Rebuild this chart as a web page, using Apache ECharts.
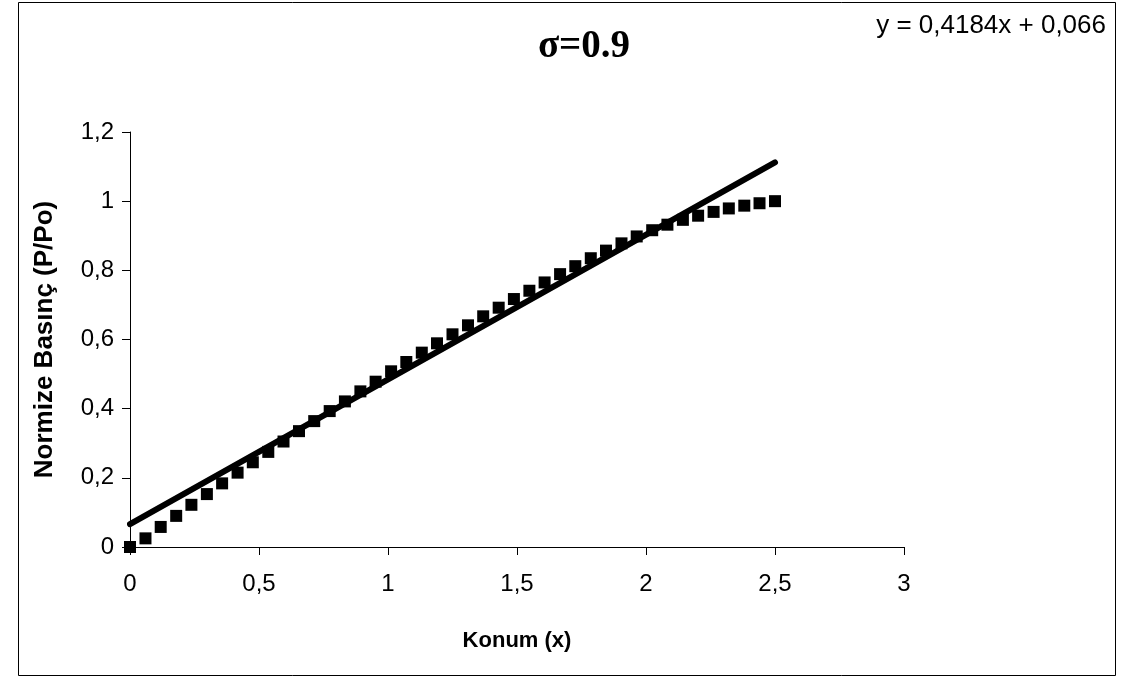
<!DOCTYPE html>
<html>
<head>
<meta charset="utf-8">
<script src="https://cdn.jsdelivr.net/npm/echarts@6/dist/echarts.min.js"></script>
<style>
  html, body { margin: 0; padding: 0; background: #fff; }
  #chart { width: 1123px; height: 685px; }
</style>
</head>
<body>
<div id="chart"></div>
<script>
// measured points (Konum x, P/Po)
const xPos = [0, 0.060, 0.119, 0.179, 0.238, 0.298, 0.357, 0.417, 0.476, 0.536,
    0.595, 0.655, 0.714, 0.774, 0.833, 0.893, 0.952, 1.012, 1.071, 1.131,
    1.190, 1.250, 1.310, 1.369, 1.429, 1.488, 1.548, 1.607, 1.667, 1.726,
    1.786, 1.845, 1.905, 1.964, 2.024, 2.083, 2.143, 2.202, 2.262, 2.321,
    2.381, 2.440, 2.500];
const pressure = [0, 0.025, 0.058, 0.090, 0.122, 0.153, 0.184, 0.215, 0.245, 0.275,
    0.305, 0.335, 0.364, 0.393, 0.421, 0.450, 0.478, 0.508, 0.535, 0.562,
    0.589, 0.615, 0.641, 0.667, 0.692, 0.717, 0.741, 0.765, 0.789, 0.812,
    0.835, 0.857, 0.878, 0.898, 0.916, 0.932, 0.946, 0.958, 0.969, 0.979,
    0.987, 0.994, 1.000];

// linear trendline end points
const trendX = [0, 2.5];
const trendY = [0.066, 1.112];

const chart = echarts.init(document.getElementById('chart'));

const axisFont = { fontFamily: 'Liberation Sans', fontSize: 24, color: '#000' };
const commaFmt = v => String(v).replace('.', ',');

chart.setOption({
    animation: false,
    backgroundColor: '#fff',
    title: [{
        text: 'σ=0.9',
        left: 579,
        top: 22,
        textAlign: 'center',
        textStyle: { fontFamily: 'Liberation Serif', fontSize: 39, fontWeight: 'bold', color: '#000' }
    }, {
        text: 'y = 0,4184x + 0,066',
        right: 12,
        top: 8,
        textStyle: { fontFamily: 'Liberation Sans', fontSize: 26, fontWeight: 'normal', color: '#000' }
    }],
    graphic: [{
        type: 'rect',
        shape: { x: 18.5, y: 2.5, width: 1097, height: 673 },
        style: { fill: 'none', stroke: '#000', lineWidth: 1 },
        silent: true
    }],
    grid: { left: 130, right: 219, top: 132, bottom: 138 },
    xAxis: {
        type: 'value',
        min: 0, max: 3, interval: 0.5,
        name: 'Konum (x)',
        nameLocation: 'middle',
        nameGap: 83,
        nameTextStyle: { fontFamily: 'Liberation Sans', fontSize: 22, fontWeight: 'bold', color: '#000' },
        axisLine: { lineStyle: { color: '#000', width: 1 } },
        axisTick: { inside: false, length: 8, lineStyle: { color: '#000' } },
        axisLabel: Object.assign({ margin: 25, formatter: commaFmt }, axisFont),
        splitLine: { show: false }
    },
    yAxis: {
        type: 'value',
        min: 0, max: 1.2, interval: 0.2,
        name: 'Normize Basınç (P/Po)',
        nameLocation: 'middle',
        nameGap: 72,
        nameRotate: 90,
        nameTextStyle: { fontFamily: 'Liberation Sans', fontSize: 26, fontWeight: 'bold', color: '#000' },
        axisLine: { show: true, lineStyle: { color: '#000', width: 1 } },
        axisTick: { show: true, inside: false, length: 8, lineStyle: { color: '#000' } },
        axisLabel: Object.assign({ margin: 16, formatter: commaFmt }, axisFont),
        splitLine: { show: false }
    },
    series: [{
        type: 'scatter',
        symbol: 'rect',
        symbolSize: 12,
        itemStyle: { color: '#000', opacity: 1 },
        data: xPos.map((x, i) => [x, pressure[i]]),
        z: 2
    }, {
        type: 'line',
        showSymbol: false,
        lineStyle: { color: '#000', width: 6, cap: 'round' },
        data: trendX.map((x, i) => [x, trendY[i]]),
        z: 3
    }]
});
</script>
</body>
</html>
